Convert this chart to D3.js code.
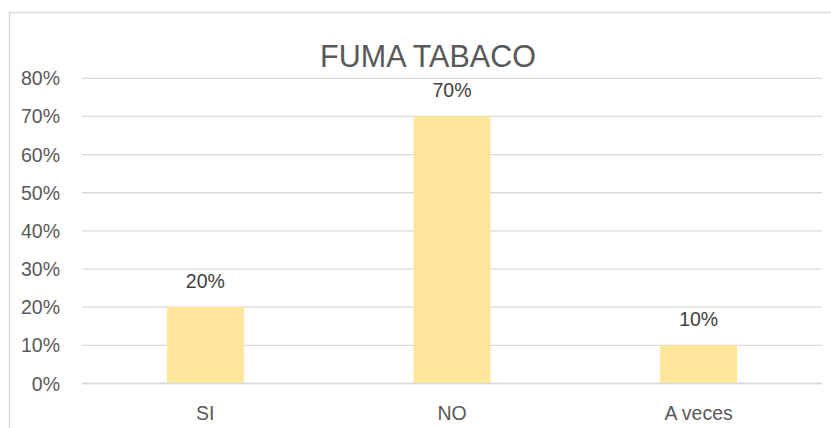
<!DOCTYPE html>
<html>
<head>
<meta charset="utf-8">
<script src="https://cdn.jsdelivr.net/npm/d3@7"></script>
<style>
  html, body { margin: 0; padding: 0; background: #fff; }
  svg { display: block; font-family: "Liberation Sans", Arial, sans-serif; }
</style>
</head>
<body>
<svg id="chart" width="831" height="428"></svg>
<script>
const categories = ["SI", "NO", "A veces"];
const values = [0.20, 0.70, 0.10];
const valueLabels = ["20%", "70%", "10%"];
const yTicks = [0, 0.1, 0.2, 0.3, 0.4, 0.5, 0.6, 0.7, 0.8];
const title = "FUMA TABACO";

(function () {
const svg = d3.select("#chart");
const mLeft = 82, mRight = 822, mTop = 78.3, mBottom = 383.5;
const textColor = "#595959";

// outer border
svg.append("rect")
  .attr("x", 9.5).attr("y", 12.5)
  .attr("width", 900).attr("height", 500)
  .attr("fill", "#fff").attr("stroke", "#D9D9D9").attr("stroke-width", 1.5);

const x = d3.scaleBand().domain(categories).range([mLeft, mRight]).padding(0);
const y = d3.scaleLinear().domain([0, 0.8]).range([mBottom, mTop]);
const barW = x.bandwidth() * 0.312;

// gridlines
svg.append("g").selectAll("line").data(yTicks).join("line")
  .attr("x1", mLeft).attr("x2", mRight)
  .attr("y1", d => y(d)).attr("y2", d => y(d))
  .attr("stroke", "#D9D9D9").attr("stroke-width", 1.3);

// y labels
svg.append("g").selectAll("text").data(yTicks).join("text")
  .attr("x", 60).attr("y", d => y(d) + 7)
  .attr("text-anchor", "end")
  .attr("fill", textColor).attr("font-size", 19.5)
  .text(d => d3.format(".0%")(d));

// bars
svg.append("g").selectAll("rect").data(values).join("rect")
  .attr("x", (d, i) => x(categories[i]) + x.bandwidth() / 2 - barW / 2)
  .attr("width", barW)
  .attr("y", d => y(d))
  .attr("height", d => y(0) - y(d))
  .attr("fill", "#FFE699");

// baseline over bars
svg.append("line")
  .attr("x1", mLeft).attr("x2", mRight)
  .attr("y1", y(0)).attr("y2", y(0))
  .attr("stroke", "#D9D9D9").attr("stroke-width", 1.3);

// value labels
svg.append("g").selectAll("text").data(values).join("text")
  .attr("x", (d, i) => x(categories[i]) + x.bandwidth() / 2)
  .attr("y", d => y(d) - 19.5)
  .attr("text-anchor", "middle")
  .attr("fill", "#404040").attr("font-size", 19.5)
  .text((d, i) => valueLabels[i]);

// x labels
svg.append("g").selectAll("text").data(categories).join("text")
  .attr("x", d => x(d) + x.bandwidth() / 2)
  .attr("y", mBottom + 36.5)
  .attr("text-anchor", "middle")
  .attr("fill", textColor).attr("font-size", 19.5)
  .text(d => d);

// title
svg.append("text")
  .attr("x", 428).attr("y", 67.3)
  .attr("text-anchor", "middle")
  .attr("fill", textColor).attr("font-size", 30.5)
  .text(title);
})();
</script>
</body>
</html>
